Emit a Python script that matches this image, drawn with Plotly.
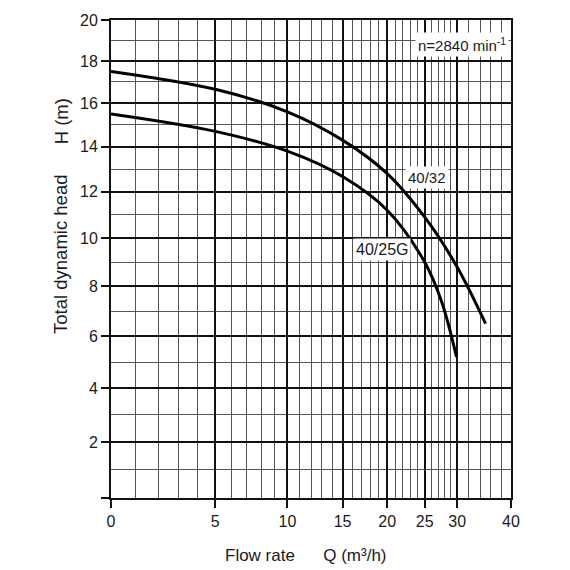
import math
import plotly.graph_objects as go

# pump curves
q_40_32 = [0, 5, 10, 15, 20, 25, 30, 35]
h_40_32 = [17.5, 16.65, 15.6, 14.3, 12.8, 10.9, 8.8, 6.5]

q_40_25g = [0, 5, 10, 15, 20, 25, 27.5, 29.9]
h_40_25g = [15.5, 14.7, 13.8, 12.67, 11.2, 9.0, 7.4, 5.2]

x_ticks = [0, 5, 10, 15, 20, 25, 30, 40]
x_minor = list(range(1, 30)) + [32, 34, 36, 38]
y_ticks = list(range(0, 21, 2))
y_minor = list(range(1, 20, 2))

# the chart's axes are compressed towards the top end: log scale with offset
XOFF = 9
YOFF = 48

FONT = "Arial, Liberation Sans, sans-serif"

fig = go.Figure()
for q, h in [(q_40_32, h_40_32), (q_40_25g, h_40_25g)]:
    fig.add_trace(go.Scatter(
        x=[v + XOFF for v in q], y=[v + YOFF for v in h],
        mode="lines", line=dict(color="black", width=3, shape="spline", smoothing=1.0),
        showlegend=False, hoverinfo="skip"))

axis_common = dict(
    type="log", showgrid=True, gridcolor="#111", gridwidth=2,
    showline=True, mirror=True, linecolor="#111", linewidth=2,
    ticks="outside", ticklen=8, tickwidth=2, tickcolor="#111",
    tickfont=dict(family=FONT, size=16, color="#1a1a1a"),
    zeroline=False,
)

fig.update_xaxes(
    **axis_common,
    range=[math.log10(0 + XOFF), math.log10(40 + XOFF)],
    tickmode="array", tickvals=[v + XOFF for v in x_ticks],
    ticktext=[str(v) for v in x_ticks],
    minor=dict(tickmode="array", tickvals=[v + XOFF for v in x_minor],
               showgrid=True, gridcolor="#555", gridwidth=1, ticks=""),
)
fig.update_yaxes(
    **axis_common,
    range=[math.log10(0 + YOFF), math.log10(20 + YOFF)],
    tickmode="array", tickvals=[v + YOFF for v in y_ticks],
    ticktext=[" " if v == 0 else str(v) for v in y_ticks],
    minor=dict(tickmode="array", tickvals=[v + YOFF for v in y_minor],
               showgrid=True, gridcolor="#555", gridwidth=1, ticks=""),
)

nb = "\u00a0"
title_font = dict(family=FONT, size=17, color="#1a1a1a")
fig.add_annotation(xref="paper", yref="paper", x=0.4875, y=-0.12,
                   text="Flow rate" + nb * 6 + "Q (m³/h)", showarrow=False,
                   xanchor="center", yanchor="middle", font=title_font)
fig.add_annotation(xref="paper", yref="paper", x=-0.125, y=0.5085,
                   text="Total dynamic head", showarrow=False,
                   textangle=-90, xanchor="center", yanchor="middle",
                   font=dict(family=FONT, size=18.5, color="#1a1a1a"))
fig.add_annotation(xref="paper", yref="paper", x=-0.125, y=0.788,
                   text="H (m)", showarrow=False,
                   textangle=-90, xanchor="center", yanchor="middle",
                   font=dict(family=FONT, size=18.5, color="#1a1a1a"))

fig.add_annotation(xref="paper", yref="paper", x=0.995, y=0.948,
                   text="n=2840 min<sup>-1</sup>", showarrow=False,
                   xanchor="right", yanchor="middle", bgcolor="white", borderpad=2,
                   font=dict(family=FONT, size=15, color="#1a1a1a"))
fig.add_annotation(xref="paper", yref="paper", x=0.79, y=0.671,
                   text="40/32", showarrow=False, xanchor="center", yanchor="middle",
                   bgcolor="white", borderpad=2,
                   font=dict(family=FONT, size=15, color="#1a1a1a"))
fig.add_annotation(xref="paper", yref="paper", x=0.6775, y=0.519,
                   text="40/25G", showarrow=False, xanchor="center", yanchor="middle",
                   bgcolor="white", borderpad=2,
                   font=dict(family=FONT, size=16, color="#1a1a1a"))

fig.update_layout(
    width=570, height=570,
    margin=dict(l=111, r=59, t=12, b=72),
    paper_bgcolor="white", plot_bgcolor="white",
)

fig.write_html("out.html", config={"displayModeBar": False},
               post_script="document.body.style.margin='0';")
